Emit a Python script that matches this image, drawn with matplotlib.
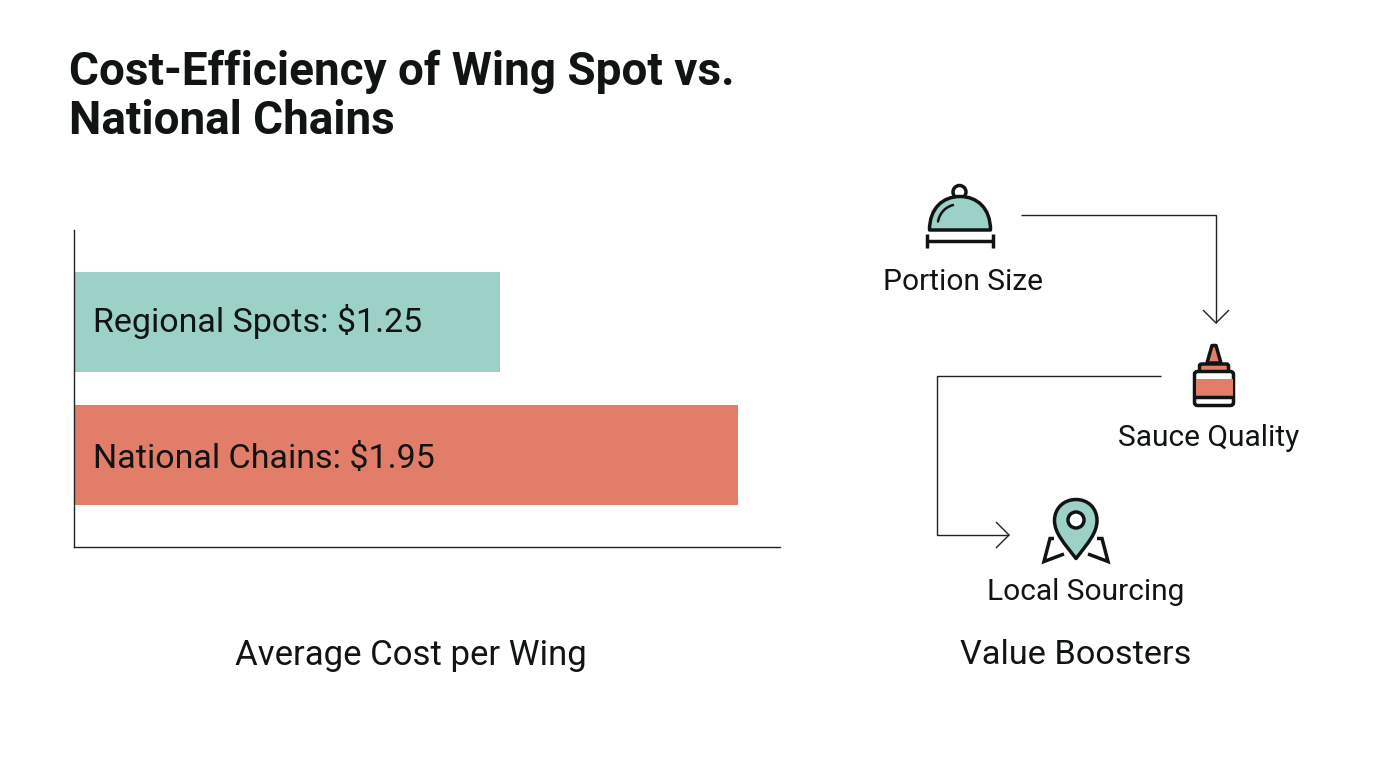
import matplotlib
matplotlib.use("Agg")
import matplotlib.pyplot as plt
from matplotlib.patches import Circle, FancyBboxPatch, PathPatch, Polygon, Rectangle
from matplotlib.path import Path

# Chart content
title_lines = ["Cost-Efficiency of Wing Spot vs.", "National Chains"]
categories = ["Regional Spots", "National Chains"]
costs = [1.25, 1.95]
axis_label = "Average Cost per Wing"
boosters = ["Portion Size", "Sauce Quality", "Local Sourcing"]
boosters_heading = "Value Boosters"

TEAL = "#9BD1C6"
SALMON = "#E27D69"
INK = "#111414"
FONT = "Roboto"

W, H = 1376, 768
plt.rcParams["font.family"] = [FONT, "DejaVu Sans"]
fig = plt.figure(figsize=(W / 100, H / 100), dpi=100, facecolor="white")


def frame(x0, y_top, x1, y_bottom):
    """Figure-fraction rectangle for a box given in pixels from the top left."""
    return [x0 / W, 1 - y_bottom / H, (x1 - x0) / W, (y_bottom - y_top) / H]


# Bar chart: one unit of cost spans about 340 pixels
ax = fig.add_axes(frame(74, 230, 779.5, 546.5))
ax.set_xlim(0, 705.5 / 340.5)
ax.set_ylim(316.5, 0)
bar_centers = [91.5, 225]
label_offsets = [-3.5, 0.5]
ax.barh(bar_centers, costs, height=100, color=[TEAL, SALMON], linewidth=0, zorder=1)
for y, dy, name, cost in zip(bar_centers, label_offsets, categories, costs):
    ax.text(19 / 340.5, y + dy, f"{name}: ${cost:.2f}", fontsize=24.5, color=INK,
            va="center_baseline", ha="left", zorder=3)
ax.set_xticks([])
ax.set_yticks([])
ax.patch.set_alpha(0)
for side in ("top", "right"):
    ax.spines[side].set_visible(False)
for side in ("left", "bottom"):
    ax.spines[side].set_linewidth(1.0)
    ax.spines[side].set_color("#222222")
    ax.spines[side].set_zorder(4)

# Overlay in pixel coordinates for the title, flow diagram and icons
ov = fig.add_axes([0, 0, 1, 1])
ov.set_xlim(0, W)
ov.set_ylim(H, 0)
ov.axis("off")
ov.patch.set_alpha(0)

ov.text(69, 72, title_lines[0], fontsize=33, fontweight="bold", color=INK, va="center", ha="left")
ov.text(69, 121, title_lines[1], fontsize=33, fontweight="bold", color=INK, va="center", ha="left")

ov.text(411, 656, axis_label, fontsize=25, color=INK, ha="center", va="center")
ov.text(1076, 655, boosters_heading, fontsize=24.7, color=INK, ha="center", va="center")
for (x, y), label in zip([(963, 282), (1208.5, 437.5), (1085.5, 592)], boosters):
    ov.text(x, y, label, fontsize=21.5, color=INK, ha="center", va="center")


def stroke(points, lw=1.0, color="#222222", **kw):
    xs, ys = zip(*points)
    ov.plot(xs, ys, color=color, lw=lw, solid_joinstyle="miter", solid_capstyle="butt", **kw)


# Connectors between the boosters
stroke([(1021, 215), (1216, 215), (1216, 323)])
stroke([(1203, 310), (1216, 323), (1229, 310)])
stroke([(1161, 376), (937, 376), (937, 535), (1009, 535)])
stroke([(996, 522), (1009, 535), (996, 548)])

ICON_LW = 2.5

# Serving cloche
dome = Path(
    [(929.5, 230), (929.5, 208), (943, 196.5), (960, 196.5), (977, 196.5), (990.5, 208), (990.5, 230), (929.5, 230)],
    [Path.MOVETO, Path.CURVE4, Path.CURVE4, Path.CURVE4, Path.CURVE4, Path.CURVE4, Path.CURVE4, Path.CLOSEPOLY],
)
ov.add_patch(Circle((959.5, 192), 6.5, facecolor="white", edgecolor=INK, lw=ICON_LW))
ov.add_patch(PathPatch(dome, facecolor=TEAL, edgecolor=INK, lw=ICON_LW, joinstyle="round"))
shine = Path([(938, 221.5), (940, 212), (946, 207), (953, 205)],
             [Path.MOVETO, Path.CURVE4, Path.CURVE4, Path.CURVE4])
ov.add_patch(PathPatch(shine, facecolor="none", edgecolor=INK, lw=1.8, capstyle="round"))
stroke([(927, 240.5), (993, 240.5)], lw=ICON_LW, color=INK)
stroke([(927, 233.5), (927, 247.5)], lw=ICON_LW, color=INK)
stroke([(993, 233.5), (993, 247.5)], lw=ICON_LW, color=INK)

# Sauce bottle
ov.add_patch(Polygon([(1212, 345.5), (1216, 345.5), (1221, 363), (1207, 363)], closed=True,
                     facecolor=SALMON, edgecolor=INK, lw=ICON_LW, joinstyle="round", zorder=3))
ov.add_patch(FancyBboxPatch((1199.5, 364), 29, 8, boxstyle="round,pad=0,rounding_size=2",
                            facecolor=SALMON, edgecolor=INK, lw=ICON_LW, zorder=3))
ov.add_patch(FancyBboxPatch((1194.5, 371.5), 39, 34, boxstyle="round,pad=0,rounding_size=3",
                            facecolor="white", edgecolor=INK, lw=ICON_LW, zorder=3))
ov.add_patch(Rectangle((1195.5, 378.5), 37, 18.5, facecolor=SALMON, edgecolor="none", zorder=3))
stroke([(1194.5, 397), (1233.5, 397)], lw=ICON_LW, color=INK, zorder=4)

# Map pin with the two folds of the map under it
pin = Path(
    [(1076, 558.5), (1064, 543), (1054.5, 533), (1054.5, 520.5), (1054.5, 508), (1064, 499.5), (1076, 499.5),
     (1088, 499.5), (1097, 508), (1097, 520.5), (1097, 533), (1088, 543), (1076, 558.5), (1076, 558.5)],
    [Path.MOVETO, Path.CURVE4, Path.CURVE4, Path.CURVE4, Path.CURVE4, Path.CURVE4, Path.CURVE4,
     Path.CURVE4, Path.CURVE4, Path.CURVE4, Path.CURVE4, Path.CURVE4, Path.CURVE4, Path.CLOSEPOLY],
)
ov.add_patch(PathPatch(pin, facecolor=TEAL, edgecolor=INK, lw=ICON_LW, joinstyle="round"))
ov.add_patch(Circle((1076, 520), 8, facecolor="white", edgecolor=INK, lw=ICON_LW))
stroke([(1054, 538.5), (1050, 538.5), (1044, 561.5), (1064, 554)], lw=ICON_LW, color=INK)
stroke([(1097, 538.5), (1102, 538.5), (1108, 561.5), (1088, 554)], lw=ICON_LW, color=INK)

fig.savefig("out.png", dpi=100, facecolor="white")
